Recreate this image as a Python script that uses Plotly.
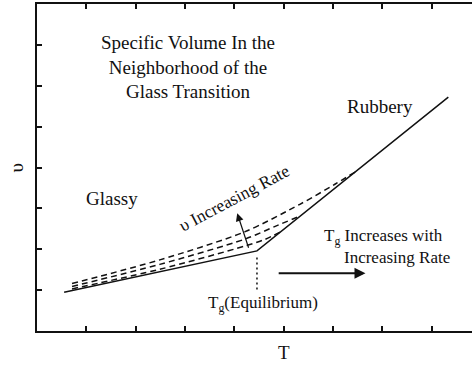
import plotly.graph_objects as go

# Equilibrium specific-volume curve: glassy branch, Tg kink, rubbery branch
eq_T = [0.55, 4.46, 8.34]
eq_v = [0.95, 1.96, 5.72]

# Non-equilibrium curves for increasing cooling rate (lowest to highest)
rate1_T = [0.71, 2.49, 4.22, 4.62, 4.93]
rate1_v = [1.03, 1.51, 2.08, 2.24, 2.42]

rate2_T = [0.71, 2.49, 4.22, 4.83, 5.33]
rate2_v = [1.09, 1.63, 2.25, 2.56, 2.81]

rate3_T = [0.71, 2.49, 4.22, 5.33, 6.04, 6.45]
rate3_v = [1.16, 1.74, 2.43, 3.10, 3.59, 3.89]

# Tg(equilibrium) marker
tg_T = [4.46, 4.46]
tg_v = [1.80, 0.95]

x_ticks = [1, 2, 3, 4, 5, 6, 7, 8]
y_ticks = [1, 2, 3, 4, 5, 6, 7]

FONT = "Liberation Serif"
INK = "#111111"

fig = go.Figure()

for tx, vy in [(rate1_T, rate1_v), (rate2_T, rate2_v), (rate3_T, rate3_v)]:
    fig.add_trace(go.Scatter(
        x=tx, y=vy, mode="lines",
        line=dict(color=INK, width=1.5, dash="6px,4px", shape="spline", smoothing=0.8),
        showlegend=False, hoverinfo="skip"))

fig.add_trace(go.Scatter(
    x=eq_T, y=eq_v, mode="lines",
    line=dict(color=INK, width=1.5),
    showlegend=False, hoverinfo="skip"))

fig.add_trace(go.Scatter(
    x=tg_T, y=tg_v, mode="lines",
    line=dict(color=INK, width=1.5, dash="2px,3px"),
    showlegend=False, hoverinfo="skip"))

annotations = [
    dict(x=3.07, y=6.45, text="Specific Volume In the<br>Neighborhood of the<br>Glass Transition",
         font=dict(size=19), showarrow=False, align="center"),
    dict(x=6.96, y=5.5, text="Rubbery", font=dict(size=19), showarrow=False),
    dict(x=1.52, y=3.25, text="Glassy", font=dict(size=19), showarrow=False),
    dict(x=4.0, y=3.25, text="υ Increasing Rate", font=dict(size=17.5),
         showarrow=False, textangle=-28),
    dict(x=5.78, y=2.3, text="T<sub>g</sub> Increases with", font=dict(size=17),
         showarrow=False, xanchor="left"),
    dict(x=6.18, y=1.8, text="Increasing Rate", font=dict(size=17),
         showarrow=False, xanchor="left"),
    dict(x=4.59, y=0.65, text="T<sub>g</sub>(Equilibrium)", font=dict(size=17),
         showarrow=False),
    # rate arrow across the dashed curves
    dict(x=4.06, y=2.88, ax=4.30, ay=2.00, xref="x", yref="y", axref="x", ayref="y",
         text="", showarrow=True, arrowhead=2, arrowsize=1.3, arrowwidth=1.2,
         arrowcolor=INK),
    # Tg shift arrow
    dict(x=6.66, y=1.41, ax=4.87, ay=1.41, xref="x", yref="y", axref="x", ayref="y",
         text="", showarrow=True, arrowhead=2, arrowsize=1.1, arrowwidth=2,
         arrowcolor=INK),
    # axis titles
    dict(x=5, xref="x", yref="paper", y=-0.066, text="T", font=dict(size=19),
         showarrow=False, xanchor="center", yanchor="middle"),
    dict(xref="paper", yref="paper", x=-0.046, y=0.5, text="υ", font=dict(size=19),
         showarrow=False, textangle=-90, xanchor="center", yanchor="middle"),
]

fig.update_layout(
    width=472, height=366,
    margin=dict(l=37, r=0, t=4, b=35),
    paper_bgcolor="white", plot_bgcolor="white",
    font=dict(family=FONT, color=INK),
    annotations=annotations,
    xaxis=dict(range=[0, 8.82], tickvals=x_ticks, showticklabels=False,
               ticks="inside", ticklen=5, tickwidth=2, tickcolor=INK,
               showline=True, linewidth=2, linecolor=INK, mirror="ticks",
               showgrid=False, zeroline=False),
    yaxis=dict(range=[0, 8], tickvals=y_ticks, showticklabels=False,
               ticks="inside", ticklen=5, tickwidth=2, tickcolor=INK,
               showline=True, linewidth=2, linecolor=INK, mirror=False,
               showgrid=False, zeroline=False),
)

fig.write_html("out.html")
